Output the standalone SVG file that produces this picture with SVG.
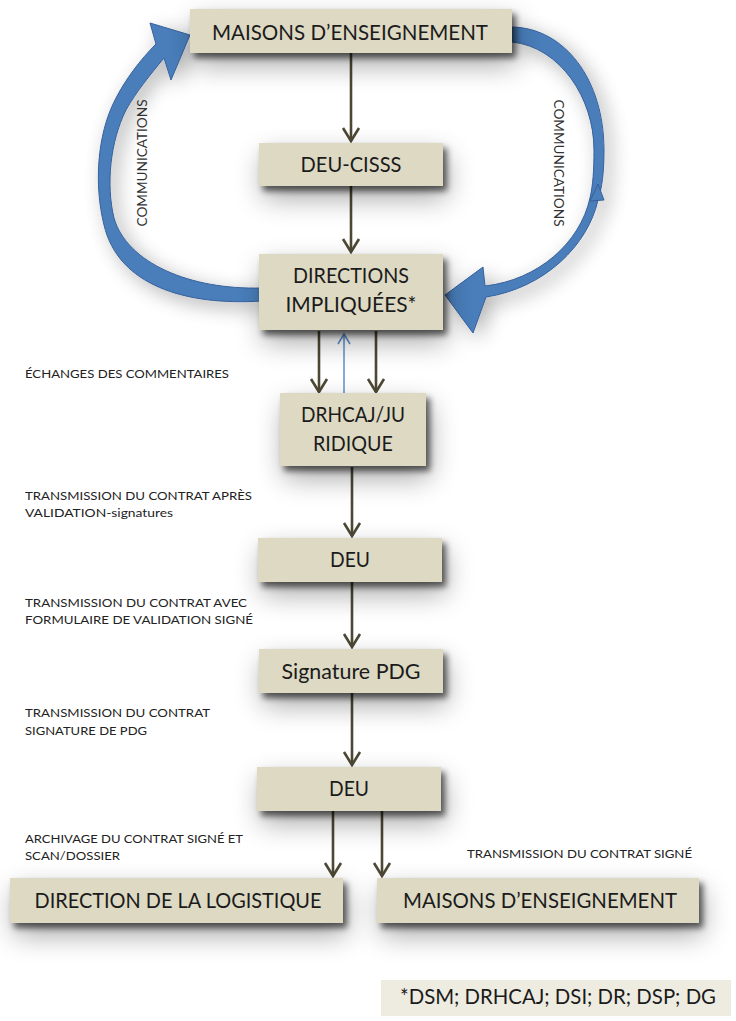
<svg xmlns="http://www.w3.org/2000/svg" width="736" height="1021" viewBox="0 0 736 1021">
<defs>
<style>
.box{fill:#ddd9c3;}
.bt{font-family:Lato,"Liberation Sans",sans-serif;font-size:22px;fill:#1b1b1b;text-anchor:middle;}
.lbl{font-family:Lato,"Liberation Sans",sans-serif;font-size:11.5px;fill:#222;}
.com{font-family:Lato,"Liberation Sans",sans-serif;font-size:13px;fill:#333;text-anchor:middle;dominant-baseline:central;}
.conn{stroke:#4d4833;stroke-width:2.6;fill:none;marker-end:url(#vh);}
.blue{fill:#4a7ebb;stroke:#36609a;stroke-width:1;}
</style>
<marker id="vh" viewBox="-16 -10 20 20" refX="0" refY="0" markerWidth="20" markerHeight="20" markerUnits="userSpaceOnUse" orient="auto">
<path d="M-13,-8 L0,0 L-13,8" fill="none" stroke="#4d4833" stroke-width="2.6" stroke-linejoin="miter"/>
</marker>
<marker id="bh" viewBox="-12 -8 14 16" refX="0" refY="0" markerWidth="14" markerHeight="16" markerUnits="userSpaceOnUse" orient="auto">
<path d="M-10,-6 L0,0 L-10,6" fill="none" stroke="#5b8fd0" stroke-width="1.5"/>
</marker>
<filter id="sh" x="-30%" y="-60%" width="160%" height="260%">
<feGaussianBlur in="SourceAlpha" stdDeviation="14" result="b1"/>
<feOffset in="b1" dx="4" dy="12" result="o1"/>
<feComponentTransfer in="o1" result="f1"><feFuncA type="linear" slope="0.35"/></feComponentTransfer>
<feGaussianBlur in="SourceAlpha" stdDeviation="3" result="b2"/>
<feOffset in="b2" dx="4" dy="5" result="o2"/>
<feComponentTransfer in="o2" result="f2"><feFuncA type="linear" slope="0.6"/></feComponentTransfer>
<feMerge><feMergeNode in="f1"/><feMergeNode in="f2"/><feMergeNode in="SourceGraphic"/></feMerge>
</filter>
<filter id="ash" x="-40%" y="-20%" width="180%" height="140%">
<feGaussianBlur in="SourceAlpha" stdDeviation="10" result="b1"/>
<feOffset in="b1" dx="6" dy="6" result="o1"/>
<feComponentTransfer in="o1" result="f1"><feFuncA type="linear" slope="0.3"/></feComponentTransfer>
<feMerge><feMergeNode in="f1"/><feMergeNode in="SourceGraphic"/></feMerge>
</filter>
</defs>
<rect x="0" y="0" width="736" height="1021" fill="#ffffff"/>

<g id="comm-arcs" filter="url(#ash)">
<path class="blue" d="M 262,301 C 185,306 118,285 104,225 C 94,185 97,135 115,100 C 125,80 140,60 156,44 L 150,23 L 190,35 L 171,80 L 164,58 C 150,75 136,92 126,110 C 110,142 106,185 114,218 C 127,263 190,290 262,288 Z"/>
<path class="blue" d="M 512,27 C 565,28 604,80 604,150 C 604,172 602,188 598,200 C 588,245 545,288 486,297 L 473,333 L 445,295 L 483,267 L 485,286 C 538,280 580,243 590,198 C 593,185 594,170 594,150 C 594,98 560,47 512,42 Z"/>
<polygon class="blue" points="598,184 590,201 604,200"/>
</g>
<text class="com" transform="translate(142,163) rotate(-90)" textLength="127" lengthAdjust="spacingAndGlyphs">COMMUNICATIONS</text>
<text class="com" transform="translate(559,163) rotate(90)" textLength="127" lengthAdjust="spacingAndGlyphs">COMMUNICATIONS</text>

<g id="connectors">
<line class="conn" x1="351" y1="53" x2="351" y2="141"/>
<line class="conn" x1="351" y1="186" x2="351" y2="252"/>
<line class="conn" x1="319" y1="331" x2="319" y2="392"/>
<line class="conn" x1="376" y1="331" x2="376" y2="392"/>
<line x1="344" y1="393" x2="344" y2="334" stroke="#5b8fd0" stroke-width="1.5" marker-end="url(#bh)"/>
<line class="conn" x1="352" y1="467" x2="352" y2="536"/>
<line class="conn" x1="352" y1="582" x2="352" y2="647"/>
<line class="conn" x1="352" y1="693" x2="352" y2="765"/>
<line class="conn" x1="333" y1="811" x2="333" y2="876"/>
<line class="conn" x1="382" y1="811" x2="382" y2="876"/>
</g>

<g id="n-maisons-top"><rect class="box" x="190" y="9" width="322" height="44" filter="url(#sh)"/><text class="bt" x="350" y="40" textLength="276" lengthAdjust="spacingAndGlyphs">MAISONS D’ENSEIGNEMENT</text></g>
<g id="n-deu-cisss"><rect class="box" x="259" y="143" width="184" height="43" filter="url(#sh)"/><text class="bt" x="351" y="172" textLength="101" lengthAdjust="spacingAndGlyphs">DEU-CISSS</text></g>
<g id="n-directions"><rect class="box" x="259" y="254" width="184" height="76" filter="url(#sh)"/><text class="bt" x="351" y="283" textLength="116" lengthAdjust="spacingAndGlyphs">DIRECTIONS</text><text class="bt" x="351" y="312" textLength="131" lengthAdjust="spacingAndGlyphs">IMPLIQUÉES*</text></g>
<g id="n-drhcaj"><rect class="box" x="280" y="393" width="146" height="73" filter="url(#sh)"/><text class="bt" x="353" y="422" textLength="104" lengthAdjust="spacingAndGlyphs">DRHCAJ/JU</text><text class="bt" x="353" y="451" textLength="80" lengthAdjust="spacingAndGlyphs">RIDIQUE</text></g>
<g id="n-deu1"><rect class="box" x="258" y="538" width="184" height="44" filter="url(#sh)"/><text class="bt" x="350" y="567" textLength="40" lengthAdjust="spacingAndGlyphs">DEU</text></g>
<g id="n-signature"><rect class="box" x="259" y="649" width="184" height="44" filter="url(#sh)"/><text class="bt" x="351" y="679" textLength="139" lengthAdjust="spacingAndGlyphs">Signature PDG</text></g>
<g id="n-deu2"><rect class="box" x="257" y="767" width="184" height="44" filter="url(#sh)"/><text class="bt" x="349" y="796" textLength="40" lengthAdjust="spacingAndGlyphs">DEU</text></g>
<g id="n-logistique"><rect class="box" x="10" y="878" width="333" height="45" filter="url(#sh)"/><text class="bt" x="178" y="908" textLength="287" lengthAdjust="spacingAndGlyphs">DIRECTION DE LA LOGISTIQUE</text></g>
<g id="n-maisons-bottom"><rect class="box" x="377" y="878" width="322" height="45" filter="url(#sh)"/><text class="bt" x="540" y="908" textLength="274" lengthAdjust="spacingAndGlyphs">MAISONS D’ENSEIGNEMENT</text></g>
<g id="n-footnote"><rect x="381" y="980" width="350" height="36" fill="#eeece1"/><text class="bt" x="558" y="1004" font-size="20" textLength="316" lengthAdjust="spacingAndGlyphs">*DSM; DRHCAJ; DSI; DR; DSP; DG</text></g>

<g id="labels">
<text class="lbl" x="25" y="378" textLength="204" lengthAdjust="spacingAndGlyphs">ÉCHANGES DES COMMENTAIRES</text>
<text class="lbl" x="25" y="500" textLength="227" lengthAdjust="spacingAndGlyphs">TRANSMISSION DU CONTRAT APRÈS</text>
<text class="lbl" x="25" y="517" textLength="148" lengthAdjust="spacingAndGlyphs">VALIDATION-signatures</text>
<text class="lbl" x="25" y="607" textLength="222" lengthAdjust="spacingAndGlyphs">TRANSMISSION DU CONTRAT AVEC</text>
<text class="lbl" x="25" y="624" textLength="228" lengthAdjust="spacingAndGlyphs">FORMULAIRE DE VALIDATION SIGNÉ</text>
<text class="lbl" x="25" y="717" textLength="185" lengthAdjust="spacingAndGlyphs">TRANSMISSION DU CONTRAT</text>
<text class="lbl" x="25" y="735" textLength="122" lengthAdjust="spacingAndGlyphs">SIGNATURE DE PDG</text>
<text class="lbl" x="25" y="843" textLength="218" lengthAdjust="spacingAndGlyphs">ARCHIVAGE DU CONTRAT SIGNÉ ET</text>
<text class="lbl" x="25" y="860" textLength="95" lengthAdjust="spacingAndGlyphs">SCAN/DOSSIER</text>
<text class="lbl" x="467" y="858" textLength="225" lengthAdjust="spacingAndGlyphs">TRANSMISSION DU CONTRAT SIGNÉ</text>
</g>
</svg>
